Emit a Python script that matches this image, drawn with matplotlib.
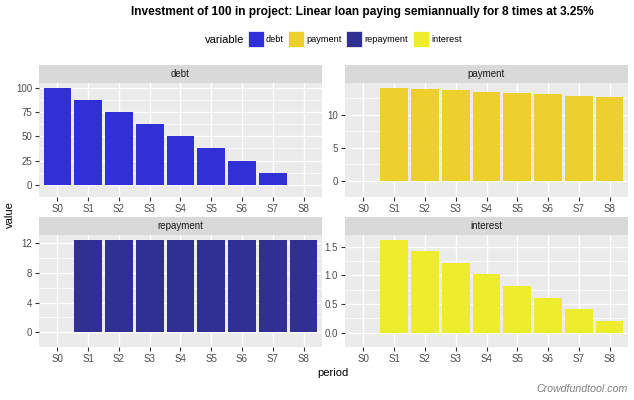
import matplotlib
matplotlib.use("Agg")
import matplotlib.pyplot as plt
from matplotlib.patches import Rectangle

plt.rcParams['font.family'] = ['Liberation Sans', 'DejaVu Sans']

# data
periods = ["S0", "S1", "S2", "S3", "S4", "S5", "S6", "S7", "S8"]
debt = [100, 87.5, 75, 62.5, 50, 37.5, 25, 12.5, 0]
payment = [0, 14.125, 13.92, 13.72, 13.52, 13.31, 13.11, 12.91, 12.70]
repayment = [0, 12.5, 12.5, 12.5, 12.5, 12.5, 12.5, 12.5, 12.5]
interest = [0, 1.625, 1.42, 1.22, 1.02, 0.81, 0.61, 0.41, 0.20]

names = ["debt", "payment", "repayment", "interest"]
series = [debt, payment, repayment, interest]
colors = ["#3030D6", "#EDD02E", "#302F92", "#EDED2E"]
yticks = [[0, 25, 50, 75, 100], [0, 5, 10], [0, 4, 8, 12], [0, 0.5, 1.0, 1.5]]
ylabels = [["0", "25", "50", "75", "100"], ["0", "5", "10"], ["0", "4", "8", "12"],
           ["0.0", "0.5", "1.0", "1.5"]]

W, H = 634, 400
fig = plt.figure(figsize=(6.34, 4), dpi=100)

def box(x0, y0, x1, y1):
    # pixel box (top-left origin) -> figure fraction
    return [x0 / W, 1 - y1 / H, (x1 - x0) / W, (y1 - y0) / H]

panels = [(39, 83, 322, 197), (345, 83, 628, 197), (39, 235, 322, 347), (345, 235, 628, 347)]

for i, (name, vals) in enumerate(zip(names, series)):
    x0, y0, x1, y1 = panels[i]
    ax = fig.add_axes(box(x0, y0, x1, y1))
    ax.set_facecolor("#EBEBEB")
    xs = list(range(len(periods)))
    ax.bar(xs, vals, width=0.9, color=colors[i], zorder=3)
    top = max(vals)
    ax.set_ylim(-0.05 * top, 1.05 * top)
    ax.set_xlim(-0.6, len(periods) - 0.4)
    ax.set_xticks(xs)
    ax.set_xticklabels(periods)
    ax.set_yticks(yticks[i])
    ax.set_yticklabels(ylabels[i])
    step = yticks[i][1] - yticks[i][0]
    minors = [t + step / 2 for t in yticks[i]]
    minors = [m for m in minors if m < 1.05 * top] + [yticks[i][0] - step / 2]
    ax.set_yticks(minors, minor=True)
    ax.grid(True, which="major", color="white", linewidth=1.0, zorder=0)
    ax.grid(True, which="minor", axis="y", color="white", linewidth=0.5, zorder=0)
    ax.tick_params(which="major", length=3, color="#333333", labelsize=7,
                   labelcolor="#4D4D4D", pad=2, width=0.8)
    ax.tick_params(which="minor", length=0)
    for s in ax.spines.values():
        s.set_visible(False)
    # facet strip
    sx = fig.add_axes(box(x0, y0 - 18, x1, y0))
    sx.set_facecolor("#D9D9D9")
    sx.set_xticks([])
    sx.set_yticks([])
    for s in sx.spines.values():
        s.set_visible(False)
    sx.text(0.5, 0.5, name, ha="center", va="center", fontsize=7, color="#1A1A1A",
            transform=sx.transAxes)

fig.text(362 / W, 1 - 12 / H, "Investment of 100 in project: Linear loan paying semiannually for 8 times at 3.25%",
         ha="center", va="center", fontsize=8.6, fontweight="bold")

# legend
ly = 1 - 40 / H
fig.text(205 / W, ly, "variable", ha="left", va="center", fontsize=8)
keys = [248, 288, 346, 413]
for k, name, c in zip(keys, names, colors):
    fig.patches.append(Rectangle((k / W, 1 - 47 / H), 16 / W, 16 / H, transform=fig.transFigure,
                                 facecolor=c, edgecolor="white", linewidth=0.5))
    fig.text((k + 18) / W, ly, name, ha="left", va="center", fontsize=6.6)

fig.text(333 / W, 1 - 373 / H, "period", ha="center", va="center", fontsize=8)
fig.text(10 / W, 1 - 215 / H, "value", ha="center", va="center", fontsize=8, rotation=90)
fig.text(628 / W, 1 - 389 / H, "Crowdfundtool.com", ha="right", va="center", fontsize=7.7,
         style="italic", color="#808080")

fig.savefig("out.png", dpi=100)
